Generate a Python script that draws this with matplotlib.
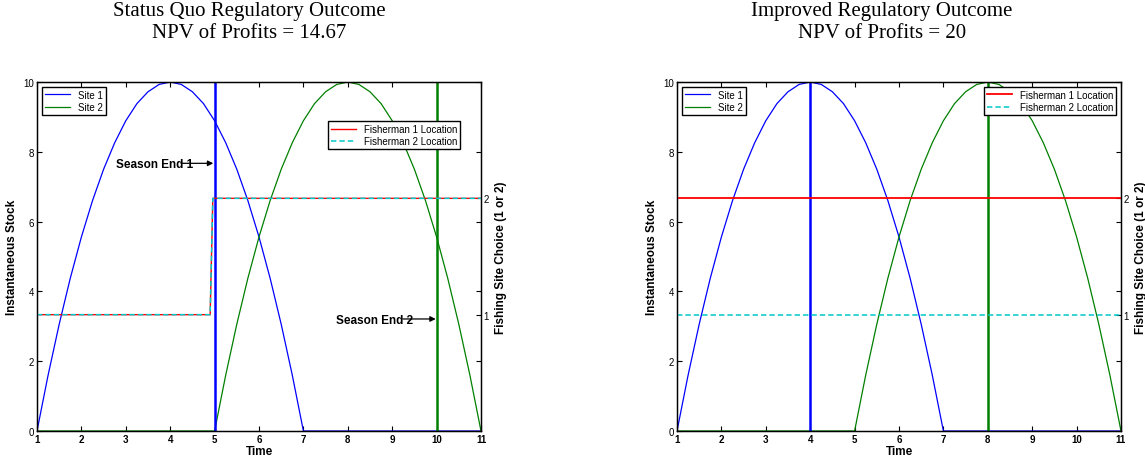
import matplotlib
matplotlib.use("Agg")
import matplotlib.pyplot as plt

# ---------------- data ----------------
time = [1.00, 1.25, 1.50, 1.75, 2.00, 2.25, 2.50, 2.75, 3.00, 3.25, 3.50, 3.75,
        4.00, 4.25, 4.50, 4.75, 5.00, 5.25, 5.50, 5.75, 6.00, 6.25, 6.50, 6.75,
        7.00, 7.25, 7.50, 7.75, 8.00, 8.25, 8.50, 8.75, 9.00, 9.25, 9.50, 9.75,
        10.00, 10.25, 10.50, 10.75, 11.00]

site1_stock = [0.00, 1.60, 3.06, 4.38, 5.56, 6.60, 7.50, 8.26, 8.89, 9.38, 9.72, 9.93,
               10.00, 9.93, 9.72, 9.38, 8.89, 8.26, 7.50, 6.60, 5.56, 4.38, 3.06, 1.60,
               0.00, 0.00, 0.00, 0.00, 0.00, 0.00, 0.00, 0.00, 0.00, 0.00, 0.00, 0.00,
               0.00, 0.00, 0.00, 0.00, 0.00]

site2_stock = [0.00, 0.00, 0.00, 0.00, 0.00, 0.00, 0.00, 0.00, 0.00, 0.00, 0.00, 0.00,
               0.00, 0.00, 0.00, 0.00, 0.00, 1.60, 3.06, 4.38, 5.56, 6.60, 7.50, 8.26,
               8.89, 9.38, 9.72, 9.93, 10.00, 9.93, 9.72, 9.38, 8.89, 8.26, 7.50, 6.60,
               5.56, 4.38, 3.06, 1.60, 0.00]

# Status quo: fisherman locations
sq_loc_time = [1.0, 4.90, 4.96, 11.0]
sq_fisher1 = [1, 1, 2, 2]
sq_fisher2 = [1, 1, 2, 2]
sq_season_end = [5, 10]          # site 1, site 2

# Improved: fisherman locations
imp_loc_time = [1.0, 11.0]
imp_fisher1 = [2, 2]
imp_fisher2 = [1, 1]
imp_season_end = [4, 8]

titles = ["Status Quo Regulatory Outcome\nNPV of Profits = 14.67",
          "Improved Regulatory Outcome\nNPV of Profits = 20"]

stock_ticks = [0, 2, 4, 6, 8, 10]
time_ticks = [1, 2, 3, 4, 5, 6, 7, 8, 9, 10, 11]
site_ticks = [1, 2]

BLUE = "#0000ff"
GREEN = "#008000"
RED = "#ff0000"
CYAN = "#00c8c8"

plt.rcParams['font.family'] = ['Liberation Sans', 'DejaVu Sans']

fig = plt.figure(figsize=(11.45, 4.64), dpi=100)

axes_left = [37 / 1145, 677 / 1145]
ax_w = 444 / 1145
ax_b = 32 / 464
ax_h = 349 / 464
title_x = [249 / 1145, 882 / 1145]


def setup(ax, tw):
    ax.set_xlim(1, 11)
    ax.set_ylim(0, 10)
    ax.set_xticks(time_ticks)
    ax.set_yticks(stock_ticks)
    ax.set_xticklabels([str(t) for t in time_ticks], fontsize=7, fontweight='bold')
    ax.set_yticklabels([str(t) for t in stock_ticks], fontsize=7)
    ax.tick_params(direction='in', length=3.5, width=0.8, top=True, right=True, pad=2)
    ax.set_xlabel("Time", fontsize=8.5, fontweight='bold', labelpad=1)
    ax.set_ylabel("Instantaneous Stock", fontsize=8.5, fontweight='bold', labelpad=4)
    for s in ax.spines.values():
        s.set_linewidth(1.0)
    tw.set_ylim(0, 3)
    tw.set_yticks(site_ticks)
    tw.set_yticklabels([str(t) for t in site_ticks], fontsize=7)
    tw.tick_params(direction='in', length=3.5, width=0.8, pad=2)
    tw.set_ylabel("Fishing Site Choice (1 or 2)", fontsize=8.5, fontweight='bold', labelpad=4)


def legend(ax, handles, labels, anchor, loc):
    lg = ax.legend(handles, labels, loc=loc, bbox_to_anchor=anchor, fontsize=7,
                   frameon=True, fancybox=False, framealpha=1, edgecolor='black',
                   handlelength=2.6, borderpad=0.3, labelspacing=0.25,
                   handletextpad=0.8, borderaxespad=0)
    lg.get_frame().set_linewidth(1.0)
    return lg


panels = [
    (sq_loc_time, sq_fisher1, sq_fisher2, sq_season_end),
    (imp_loc_time, imp_fisher1, imp_fisher2, imp_season_end),
]

for i, (lt, f1, f2, se) in enumerate(panels):
    ax = fig.add_axes([axes_left[i], ax_b, ax_w, ax_h])
    tw = ax.twinx()
    l1, = ax.plot(time, site1_stock, color=BLUE, lw=0.9)
    l2, = ax.plot(time, site2_stock, color=GREEN, lw=0.9)
    ax.vlines(se[0], 0, 10, color=BLUE, lw=1.8)
    ax.vlines(se[1], 0, 10, color=GREEN, lw=1.8)
    f1l, = tw.plot(lt, f1, color=RED, lw=1.0 if i == 0 else 1.3)
    f2l, = tw.plot(lt, f2, color=CYAN, lw=1.1, ls=(0, (3.5, 2)))
    setup(ax, tw)
    tw.add_artist(legend(tw, [l1, l2], ["Site 1", "Site 2"], (0.011, 0.986), 'upper left'))
    if i == 0:
        legend(tw, [f1l, f2l], ["Fisherman 1 Location", "Fisherman 2 Location"],
               (0.655, 0.888), 'upper left')
        tw.annotate("", xy=(4.97, 7.67), xytext=(4.25, 7.67), xycoords=ax.transData,
                    textcoords=ax.transData,
                    arrowprops=dict(arrowstyle='-|>', color='black', lw=0.9,
                                    mutation_scale=8, shrinkA=0, shrinkB=0))
        tw.text(2.77, 7.64, "Season End 1", transform=ax.transData, fontsize=8.5,
                fontweight='bold', va='center', ha='left')
        tw.annotate("", xy=(9.98, 3.21), xytext=(9.24, 3.21), xycoords=ax.transData,
                    textcoords=ax.transData,
                    arrowprops=dict(arrowstyle='-|>', color='black', lw=0.9,
                                    mutation_scale=8, shrinkA=0, shrinkB=0))
        tw.text(7.73, 3.18, "Season End 2", transform=ax.transData, fontsize=8.5,
                fontweight='bold', va='center', ha='left')
    else:
        legend(tw, [f1l, f2l], ["Fisherman 1 Location", "Fisherman 2 Location"],
               (0.989, 0.986), 'upper right')
    fig.text(title_x[i], 1 - 2 / 464, titles[i], ha='center', va='top',
             fontsize=15, family='Liberation Serif', linespacing=1.2)

fig.savefig("out.png", dpi=100)
